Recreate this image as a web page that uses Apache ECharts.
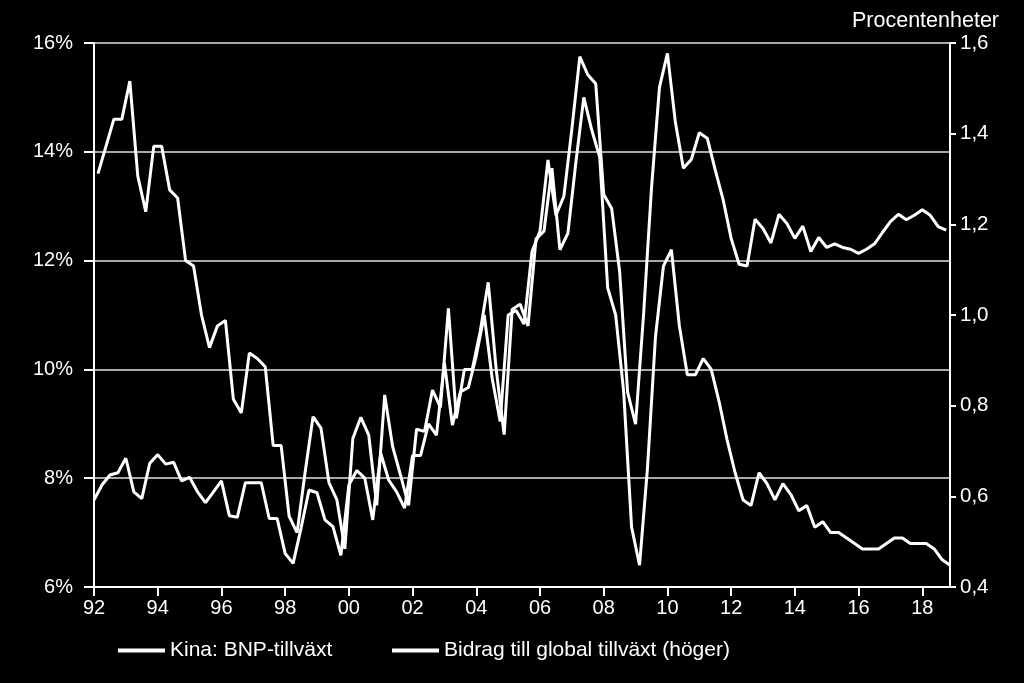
<!DOCTYPE html>
<html>
<head>
<meta charset="utf-8">
<script src="https://cdn.jsdelivr.net/npm/echarts@6/dist/echarts.min.js"></script>
<style>
html,body{margin:0;padding:0;background:#000;}
#chart{width:1024px;height:683px;}
</style>
</head>
<body>
<div id="chart"></div>
<script>
// Quarters 1992Q1 .. 2018Q4
const firstYear = 1992;
const lastYear = 2018;
const quarterLabels = [];
for (let y = firstYear; y <= lastYear; y++) {
  for (let q = 1; q <= 4; q++) quarterLabels.push(y + 'Q' + q);
}

// Kina: BNP-tillväxt (%), left axis
const gdpGrowth = [
  13.6, 14.1, 14.6, 14.6, 15.3, 13.55, 12.9, 14.1,
  14.1, 13.3, 13.15, 12.0, 11.9, 11.0, 10.4, 10.8,
  10.9, 9.45, 9.2, 10.3, 10.2, 10.05, 8.6, 8.6,
  7.3, 7.0, 8.1, 9.13, 8.92, 7.92, 7.6, 6.7,
  8.73, 9.12, 8.79, 7.5, 9.53, 8.58, 8.05, 7.5,
  8.9, 8.86, 9.62, 9.3, 11.12, 9.1, 10.0, 10.0,
  10.7, 11.6, 10.0, 8.8, 11.1, 11.2, 10.8, 12.4,
  12.54, 13.7, 12.2, 12.5, 13.8, 15.0, 14.4, 13.9,
  11.5, 11.0, 9.6, 7.1, 6.4, 8.2, 10.6, 11.9,
  12.2, 10.8, 9.9, 9.9, 10.2, 10.0, 9.4, 8.7,
  8.1, 7.6, 7.5, 8.1, 7.9, 7.6, 7.9, 7.7,
  7.4, 7.5, 7.1, 7.2, 7.0, 7.0, 6.9, 6.8,
  6.7, 6.7, 6.7, 6.8, 6.9, 6.9, 6.8, 6.8,
  6.8, 6.7, 6.5, 6.4
];

// Bidrag till global tillväxt (procentenheter), right axis
const globalContribution = [
  0.592, 0.625, 0.647, 0.652, 0.684, 0.61, 0.595, 0.673,
  0.692, 0.671, 0.675, 0.634, 0.642, 0.61, 0.586, 0.61,
  0.634, 0.557, 0.554, 0.63, 0.63, 0.63, 0.551, 0.551,
  0.474, 0.452, 0.53, 0.614, 0.608, 0.548, 0.533, 0.47,
  0.625, 0.657, 0.64, 0.548, 0.695, 0.636, 0.61, 0.574,
  0.69, 0.69, 0.76, 0.735, 0.894, 0.757, 0.83, 0.84,
  0.91, 1.0, 0.86, 0.765, 1.0, 1.01, 0.98, 1.14,
  1.185, 1.342, 1.22, 1.262, 1.41, 1.57, 1.53, 1.51,
  1.266, 1.235, 1.096, 0.83, 0.759, 1.0, 1.28, 1.502,
  1.577, 1.425, 1.324, 1.343, 1.402, 1.39, 1.32, 1.254,
  1.169, 1.112, 1.108, 1.211, 1.191, 1.159, 1.222, 1.202,
  1.169, 1.196, 1.14, 1.171, 1.149, 1.157, 1.149, 1.145,
  1.136, 1.145, 1.157, 1.182, 1.206, 1.222, 1.21, 1.22,
  1.232, 1.22, 1.195, 1.187
];

const seriesNames = ['Kina: BNP-tillväxt', 'Bidrag till global tillväxt (höger)'];
const unitLabel = 'Procentenheter';
const leftTicks = { min: 6, max: 16, step: 2 };
const rightTicks = { min: 0.4, max: 1.6, step: 0.2 };
const xTicks = { min: 1992, max: 2018.87, step: 2 };

function quarterPos(label, offset) {
  const y = parseInt(label.slice(0, 4), 10);
  const q = parseInt(label.slice(5), 10);
  return y + (q - 1 + offset) / 4;
}
const gdpData = quarterLabels.map((l, i) => [quarterPos(l, 0.5), gdpGrowth[i]]);
const contribData = quarterLabels.map((l, i) => [quarterPos(l, 0), globalContribution[i]]);

const FONT = "'Liberation Sans', Arial, sans-serif";
const chart = echarts.init(document.getElementById('chart'), null, { renderer: 'canvas' });
chart.setOption({
  backgroundColor: '#000000',
  animation: false,
  textStyle: { fontFamily: FONT, color: '#ffffff' },
  title: {
    text: unitLabel,
    right: 20, top: 5,
    textStyle: { color: '#ffffff', fontSize: 21.5, fontWeight: 'normal', fontFamily: FONT }
  },
  grid: { left: 94, right: 74, top: 43, bottom: 96, containLabel: false },
  legend: [
    {
      data: [seriesNames[0]], left: 113, top: 635,
      itemWidth: 47, itemHeight: 4, icon: 'rect', itemGap: 5,
      textStyle: { color: '#ffffff', fontSize: 21, fontFamily: FONT }
    },
    {
      data: [seriesNames[1]], left: 387, top: 635,
      itemWidth: 47, itemHeight: 4, icon: 'rect',
      textStyle: { color: '#ffffff', fontSize: 21, fontFamily: FONT }
    }
  ],
  xAxis: {
    type: 'value',
    min: xTicks.min, max: xTicks.max, interval: xTicks.step,
    axisLine: { show: true, lineStyle: { color: '#ffffff', width: 2 } },
    axisTick: { show: true, inside: false, length: 9, lineStyle: { color: '#ffffff', width: 2 } },
    splitLine: { show: false },
    axisLabel: {
      color: '#ffffff', fontSize: 20, fontFamily: FONT, margin: 11,
      showMaxLabel: false,
      formatter: function (v) {
        if (Math.abs(v - Math.round(v)) > 0.01) return '';
        return String(Math.round(v) % 100).padStart(2, '0');
      }
    }
  },
  yAxis: [
    {
      type: 'value', position: 'left',
      min: leftTicks.min, max: leftTicks.max, interval: leftTicks.step,
      axisLine: { show: true, lineStyle: { color: '#ffffff', width: 2 } },
      axisTick: { show: true, inside: false, length: 10, lineStyle: { color: '#ffffff', width: 2 } },
      splitLine: { show: true, lineStyle: { color: '#a8a8a8', width: 2 } },
      axisLabel: { color: '#ffffff', fontSize: 20, fontFamily: FONT, margin: 21, formatter: '{value}%' }
    },
    {
      type: 'value', position: 'right',
      min: rightTicks.min, max: rightTicks.max, interval: rightTicks.step,
      axisLine: { show: true, lineStyle: { color: '#ffffff', width: 2 } },
      axisTick: { show: true, inside: false, length: 6, lineStyle: { color: '#ffffff', width: 2 } },
      splitLine: { show: false },
      axisLabel: {
        color: '#ffffff', fontSize: 20.5, fontFamily: FONT, margin: 10,
        formatter: function (v) { return v.toFixed(1).replace('.', ','); }
      }
    }
  ],
  series: [
    {
      name: seriesNames[0], type: 'line', yAxisIndex: 0,
      data: gdpData, showSymbol: false, symbol: 'none',
      itemStyle: { color: '#ffffff' },
      lineStyle: { color: '#ffffff', width: 3 }
    },
    {
      name: seriesNames[1], type: 'line', yAxisIndex: 1,
      data: contribData, showSymbol: false, symbol: 'none',
      itemStyle: { color: '#ffffff' },
      lineStyle: { color: '#ffffff', width: 3 }
    }
  ]
});
</script>
</body>
</html>
